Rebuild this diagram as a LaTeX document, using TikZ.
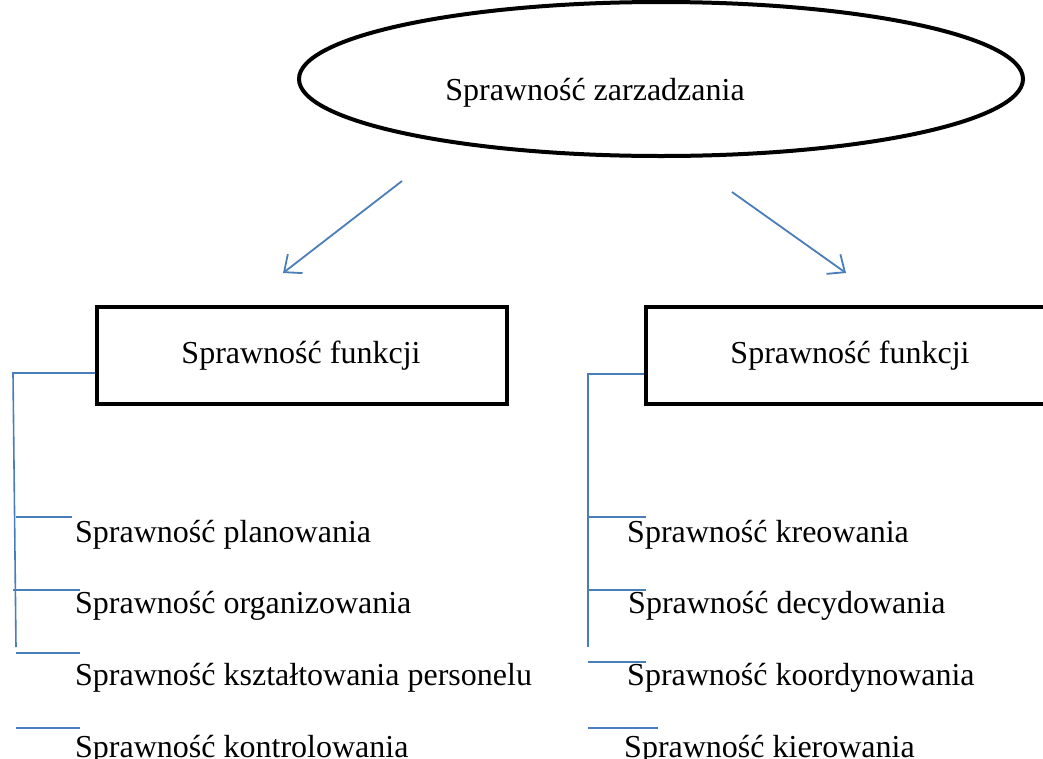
\documentclass[tikz,border=0pt]{standalone}
\usepackage{fontspec}
\setmainfont{Liberation Serif}
\usetikzlibrary{arrows.meta,shapes.geometric}
\definecolor{linkblue}{RGB}{74,126,187}
\tikzset{
  lbl/.style={inner sep=0pt, font=\fontsize{32}{38}\selectfont},
  item/.style={lbl, anchor=base west},
  framebox/.style={draw=black, line width=4pt, minimum width=410pt, minimum height=97pt, inner sep=0pt},
  branch/.style={draw=linkblue, line width=1.6pt},
  pointer/.style={draw=linkblue, line width=1.8pt, -{Straight Barb[length=14pt,width=24pt,line width=1.8pt]}}
}
\begin{document}
\begin{tikzpicture}[x=1pt,y=-1pt]
\clip (0,0) rectangle (1043,758);
\fill[white] (0,0) rectangle (1043,758);

% top ellipse and its caption
\node[ellipse, draw=black, line width=4pt, minimum width=724pt, minimum height=154pt, inner sep=0pt] (top) at (661,79) {};
\node[lbl, anchor=base] (toptxt) at (595,100) {Sprawność zarzadzania};

% the two function boxes
\node[framebox] (left) at (302,355) {};
\node[lbl, anchor=base] (lefttxt) at (301,363) {Sprawność funkcji};
\node[framebox] (right) at (851,355) {};
\node[lbl, anchor=base] (righttxt) at (850,363) {Sprawność funkcji};

% arrows from the ellipse to the boxes
\coordinate (la) at (402,181);
\coordinate (lb) at (283,273);
\coordinate (ra) at (732,192);
\coordinate (rb) at (846,273);
\draw[pointer] (la) -- (lb);
\draw[pointer] (ra) -- (rb);

% left list
\node[item] (l1) at (75,542) {Sprawność planowania};
\node[item] (l2) at (75,613) {Sprawność organizowania};
\node[item] (l3) at (75,685) {Sprawność kształtowania personelu};
\node[item] (l4) at (75,757) {Sprawność kontrolowania};

% right list
\node[item] (r1) at (627,542) {Sprawność kreowania};
\node[item] (r2) at (628,613) {Sprawność decydowania};
\node[item] (r3) at (627,685) {Sprawność koordynowania};
\node[item] (r4) at (624,757) {Sprawność kierowania};

% left bracket
\coordinate (lt) at (13,373);
\coordinate (lbot) at (16,647);
\draw[branch] (left.west |- lt) -- (lt) -- (lbot);
\draw[branch] (16,517) -- (72,517);
\draw[branch] (13,590) -- (80,590);
\draw[branch] (16,653) -- (80,653);
\draw[branch] (16,728) -- (80,728);

% right bracket
\coordinate (rt) at (588,374);
\coordinate (rbot) at (588,647);
\draw[branch] (right.west |- rt) -- (rt) -- (rbot);
\draw[branch] (588,517) -- (646,517);
\draw[branch] (588,590) -- (646,590);
\draw[branch] (588,662) -- (646,662);
\draw[branch] (588,728) -- (658,728);
\end{tikzpicture}
\end{document}
